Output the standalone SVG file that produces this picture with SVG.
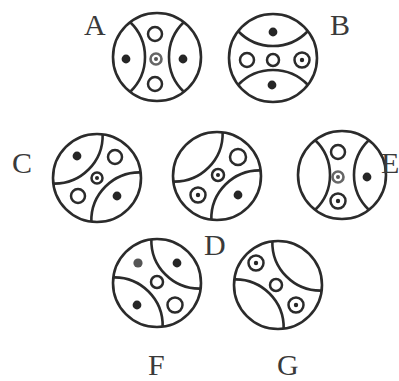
<svg xmlns="http://www.w3.org/2000/svg" width="399" height="381" viewBox="0 0 399 381">
<style>
.ln{fill:none;stroke:#2b2b2b;stroke-width:2.6}
.ring{fill:#fff;stroke:#2b2b2b;stroke-width:2.5}
.gring{fill:#fff;stroke:#666;stroke-width:2.6}
.dot{fill:#262626}
.gdot{fill:#555}
.lbl{font-family:"Liberation Serif","Times New Roman",serif;font-size:30px;fill:#3a3a3a}
</style>
<defs>
<g id="frame">
<circle class="ln" cx="0" cy="0" r="44"/>
<path class="ln" d="M-27,-35 A48.3,48.3 0 0 1 -27,35"/>
<path class="ln" d="M27,-35 A48.3,48.3 0 0 0 27,35"/>
</g>
</defs>
<rect width="399" height="381" fill="#fff"/>

<g id="A">
<use href="#frame" transform="translate(157,57)"/>
<circle class="ring" cx="155" cy="34" r="7"/>
<circle class="gring" cx="156" cy="59" r="5.5"/>
<circle class="gdot" cx="156" cy="59" r="2"/>
<circle class="ring" cx="155" cy="84" r="7"/>
<circle class="dot" cx="126" cy="59" r="4.4"/>
<circle class="dot" cx="183" cy="59" r="4.4"/>
<text class="lbl" x="84" y="35">A</text>
</g>

<g id="B">
<use href="#frame" transform="translate(273,58) rotate(90)"/>
<circle class="dot" cx="273" cy="32" r="4.4"/>
<circle class="dot" cx="272" cy="85" r="4.4"/>
<circle class="ring" cx="247" cy="60" r="7"/>
<circle class="ring" cx="273" cy="60" r="6"/>
<circle class="ring" cx="302" cy="60" r="7.5"/>
<circle class="dot" cx="302" cy="60" r="2.2"/>
<text class="lbl" x="330" y="35">B</text>
</g>

<g id="C">
<use href="#frame" transform="translate(97,178) rotate(45)"/>
<circle class="dot" cx="77" cy="156" r="4.4"/>
<circle class="ring" cx="115" cy="157" r="7"/>
<circle class="ring" cx="97" cy="178" r="5.5"/>
<circle class="dot" cx="97" cy="178" r="2"/>
<circle class="ring" cx="78" cy="196" r="7"/>
<circle class="dot" cx="117" cy="196" r="4.4"/>
<text class="lbl" x="12" y="173">C</text>
</g>

<g id="D">
<use href="#frame" transform="translate(217,176) rotate(45)"/>
<circle class="ring" cx="238" cy="157" r="8"/>
<circle class="ring" cx="218" cy="175" r="6"/>
<circle class="dot" cx="218" cy="175" r="2"/>
<circle class="ring" cx="198" cy="195" r="7.5"/>
<circle class="dot" cx="198" cy="195" r="2.2"/>
<circle class="dot" cx="238" cy="195" r="4.4"/>
<text class="lbl" x="204" y="255">D</text>
</g>

<g id="E">
<use href="#frame" transform="translate(342,175)"/>
<circle class="ring" cx="338" cy="152" r="7"/>
<circle class="gring" cx="338" cy="177" r="5.5"/>
<circle class="gdot" cx="338" cy="177" r="2"/>
<circle class="ring" cx="338" cy="201" r="7.5"/>
<circle class="dot" cx="338" cy="201" r="2.2"/>
<circle class="dot" cx="367" cy="177" r="4.4"/>
<text class="lbl" x="381" y="173">E</text>
</g>

<g id="F">
<use href="#frame" transform="translate(157,283) rotate(-45)"/>
<circle class="gdot" cx="138" cy="263" r="4.6"/>
<circle class="dot" cx="177" cy="263" r="4.4"/>
<circle class="ring" cx="157" cy="282" r="6"/>
<circle class="dot" cx="137" cy="305" r="4.4"/>
<circle class="ring" cx="175" cy="305" r="7.5"/>
<text class="lbl" x="148" y="375">F</text>
</g>

<g id="G">
<use href="#frame" transform="translate(278,285) rotate(-45)"/>
<circle class="ring" cx="256" cy="263" r="7.5"/>
<circle class="dot" cx="256" cy="263" r="2.2"/>
<circle class="ring" cx="276" cy="285" r="6"/>
<circle class="ring" cx="296" cy="305" r="7.5"/>
<circle class="dot" cx="296" cy="305" r="2.2"/>
<text class="lbl" x="277" y="375">G</text>
</g>
</svg>
